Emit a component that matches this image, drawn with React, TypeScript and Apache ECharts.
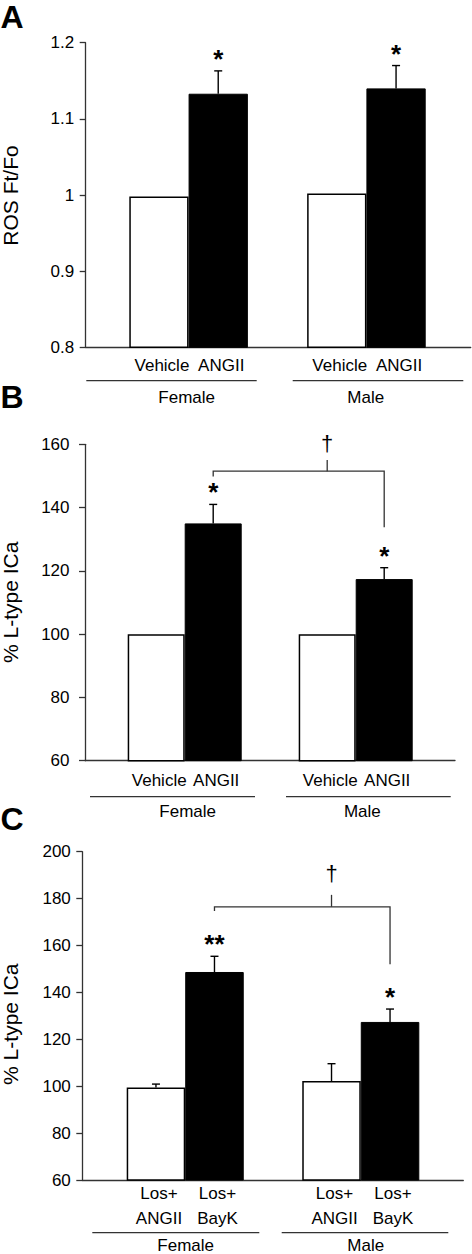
import React, { useEffect, useRef } from "react";
import * as echarts from "echarts";

const FONT = '"Liberation Sans", Arial, Helvetica, sans-serif';
const AXIS_COLOR = "#333";

// ---------- Data ----------
const groups = ["Female", "Male"];

// Panel A
const aTreatments = ["Vehicle", "ANGII"];
const aControlMean = [0.998, 1.002];
const aControlUpper: (number | null)[] = [null, null];
const aTreatMean = [1.133, 1.14];
const aTreatUpper = [1.163, 1.17];
const aControlSig = ["", ""];
const aTreatSig = ["*", "*"];
const aYTicks = { min: 0.8, max: 1.2, interval: 0.1 };
const aYName = "ROS Ft/Fo";

// Panel B
const bTreatments = ["Vehicle", "ANGII"];
const bControlMean = [100, 100];
const bControlUpper: (number | null)[] = [null, null];
const bTreatMean = [135.0, 117.4];
const bTreatUpper = [141.0, 121.0];
const bControlSig = ["", ""];
const bTreatSig = ["*", "*"];
const bYTicks = { min: 60, max: 160, interval: 20 };
const bYName = "% L-type ICa";
// bracket: y level, left leg end, right leg end, middle tick top, dagger level
const bBracket = [151.5, 149.8, 133.8, 155.0, 160.3];

// Panel C
const cTreatments = ["Los+\nANGII", "Los+\nBayK"];
const cControlMean = [99.4, 102.2];
const cControlUpper: (number | null)[] = [100.9, 109.6];
const cTreatMean = [148.7, 127.4];
const cTreatUpper = [155.4, 132.9];
const cControlSig = ["", ""];
const cTreatSig = ["**", "*"];
const cYTicks = { min: 60, max: 200, interval: 20 };
const cYName = "% L-type ICa";
const cBracket = [176.5, 174.7, 152.0, 181.6, 190.8];

// ---------- Layout (pixels) ----------
const layouts = [
  {
    letter: "A", letterY: 17,
    top: 42.7, bottom: 347.3, axisLeft: 85.7, axisRight: 470.7, barsLeft: 129.3, barsRight: 425.7,
    yLabelMargin: 11.5, xLabelMargin: 10, xLineHeight: 17, nameX: 10.8, nameY: 195.5,
    groupLineY: 380.7, groupLines: [[86.3, 256.7], [292.7, 463.3]], groupTextY: 397.3, groupTextX: [186.7, 365.7],
  },
  {
    letter: "B", letterY: 396.5,
    top: 444.3, bottom: 760.7, axisLeft: 85, axisRight: 455, barsLeft: 127.7, barsRight: 412.7,
    yLabelMargin: 15.5, xLabelMargin: 11, xLineHeight: 17, nameX: 10.5, nameY: 602.3,
    groupLineY: 796.7, groupLines: [[90, 255], [286, 450.7]], groupTextY: 811.7, groupTextX: [187.7, 362.3],
  },
  {
    letter: "C", letterY: 819,
    top: 851.7, bottom: 1180, axisLeft: 82.3, axisRight: 463.3, barsLeft: 126.7, barsRight: 419.3,
    yLabelMargin: 11.5, xLabelMargin: 1, xLineHeight: 25, nameX: 10.5, nameY: 1024.2,
    groupLineY: 1232.7, groupLines: [[92.3, 259.3], [281.7, 448.3]], groupTextY: 1245, groupTextX: [185.7, 365.7],
  },
];

type PanelData = {
  treatments: string[];
  controlMean: number[];
  controlUpper: (number | null)[];
  treatMean: number[];
  treatUpper: number[];
  controlSig: string[];
  treatSig: string[];
  yTicks: { min: number; max: number; interval: number };
  yName: string;
  bracket: number[] | null;
};

const panels: PanelData[] = [
  { treatments: aTreatments, controlMean: aControlMean, controlUpper: aControlUpper, treatMean: aTreatMean, treatUpper: aTreatUpper, controlSig: aControlSig, treatSig: aTreatSig, yTicks: aYTicks, yName: aYName, bracket: null },
  { treatments: bTreatments, controlMean: bControlMean, controlUpper: bControlUpper, treatMean: bTreatMean, treatUpper: bTreatUpper, controlSig: bControlSig, treatSig: bTreatSig, yTicks: bYTicks, yName: bYName, bracket: bBracket },
  { treatments: cTreatments, controlMean: cControlMean, controlUpper: cControlUpper, treatMean: cTreatMean, treatUpper: cTreatUpper, controlSig: cControlSig, treatSig: cTreatSig, yTicks: cYTicks, yName: cYName, bracket: cBracket },
];

function buildOption() {
  const grid: any[] = [];
  const xAxis: any[] = [];
  const yAxis: any[] = [];
  const series: any[] = [];
  const graphic: any[] = [];

  panels.forEach((p, pi) => {
    const L = layouts[pi];
    const axesIdx = pi * 2;
    const barsIdx = pi * 2 + 1;
    const h = L.bottom - L.top;

    grid.push({ left: L.axisLeft, top: L.top, width: L.axisRight - L.axisLeft, height: h, containLabel: false });
    grid.push({ left: L.barsLeft, top: L.top, width: L.barsRight - L.barsLeft, height: h, containLabel: false });

    // categories: control, treat for each group, with an empty gap between groups
    const cats: string[] = [];
    groups.forEach((g, gi) => {
      if (gi > 0) cats.push("");
      cats.push(p.treatments[0], p.treatments[1]);
    });
    const catIndex = (gi: number, k: number) => gi * 3 + k;

    xAxis.push({
      type: "value", gridIndex: axesIdx, min: 0, max: 1,
      axisLine: { show: true, lineStyle: { color: AXIS_COLOR, width: 1.3 } },
      axisTick: { show: false }, axisLabel: { show: false }, splitLine: { show: false },
    });
    xAxis.push({
      type: "category", gridIndex: barsIdx, data: cats,
      axisLine: { show: false }, axisTick: { show: false }, splitLine: { show: false },
      axisLabel: {
        show: true, interval: 0, margin: L.xLabelMargin, color: "#000",
        fontFamily: FONT, fontSize: 17, lineHeight: L.xLineHeight, verticalAlign: "top",
        padding: [0, 0, 0, 6],
      },
    });
    yAxis.push({
      type: "value", gridIndex: axesIdx, min: p.yTicks.min, max: p.yTicks.max, interval: p.yTicks.interval,
      axisLine: { show: true, onZero: false, lineStyle: { color: AXIS_COLOR, width: 1.3 } },
      axisTick: { show: true, inside: false, length: 6, lineStyle: { color: AXIS_COLOR, width: 1.3 } },
      axisLabel: { show: true, margin: L.yLabelMargin, color: "#000", fontFamily: FONT, fontSize: 17 },
      splitLine: { show: false },
    });
    yAxis.push({
      type: "value", gridIndex: barsIdx, min: p.yTicks.min, max: p.yTicks.max, interval: p.yTicks.interval,
      show: false, splitLine: { show: false },
    });

    const controlData = cats.map(() => "-" as any);
    const treatData = cats.map(() => "-" as any);
    groups.forEach((g, gi) => {
      controlData[catIndex(gi, 0)] = p.controlMean[gi];
      treatData[catIndex(gi, 1)] = p.treatMean[gi];
    });

    series.push({
      type: "bar", name: p.treatments[0], xAxisIndex: barsIdx, yAxisIndex: barsIdx,
      data: controlData, barGap: "-100%", barCategoryGap: "0%",
      itemStyle: { color: "#fff", borderColor: "#000", borderWidth: 1.5 },
    });
    series.push({
      type: "bar", name: p.treatments[1], xAxisIndex: barsIdx, yAxisIndex: barsIdx,
      data: treatData, barGap: "-100%", barCategoryGap: "0%",
      itemStyle: { color: "#000", borderColor: "#000", borderWidth: 1 },
    });

    // error bars + significance marks
    const errData: any[] = [];
    const errSig: string[] = [];
    groups.forEach((g, gi) => {
      const cu = p.controlUpper[gi];
      if (cu != null || p.controlSig[gi]) {
        errData.push([catIndex(gi, 0), p.controlMean[gi], cu != null ? cu : p.controlMean[gi]]);
        errSig.push(p.controlSig[gi]);
      }
      errData.push([catIndex(gi, 1), p.treatMean[gi], p.treatUpper[gi]]);
      errSig.push(p.treatSig[gi]);
    });
    series.push({
      type: "custom", xAxisIndex: barsIdx, yAxisIndex: barsIdx, data: errData, z: 5, clip: false,
      renderItem: (params: any, api: any) => {
        const cat = api.value(0);
        const mean = api.value(1);
        const upper = api.value(2);
        const b = api.coord([cat, mean]);
        const t = api.coord([cat, upper]);
        const children: any[] = [];
        if (upper > mean) {
          children.push({ type: "line", shape: { x1: b[0], y1: b[1], x2: t[0], y2: t[1] }, style: { stroke: "#000", lineWidth: 1.4 } });
          children.push({ type: "line", shape: { x1: t[0] - 4, y1: t[1], x2: t[0] + 4, y2: t[1] }, style: { stroke: "#000", lineWidth: 1.4 } });
        }
        const sig = errSig[params.dataIndex];
        if (sig) {
          children.push({
            type: "text",
            style: { text: sig, x: t[0], y: t[1] + 1, align: "center", verticalAlign: "bottom", fill: "#000", font: `bold 26px ${FONT}` },
          });
        }
        return { type: "group", children };
      },
    });

    if (p.bracket) {
      const br = p.bracket;
      const fromCat = catIndex(0, 1);
      const toCat = catIndex(1, 1);
      series.push({
        type: "custom", xAxisIndex: barsIdx, yAxisIndex: barsIdx, clip: false, z: 5,
        data: [[fromCat, toCat, br[0], br[1], br[2], br[3], br[4]]],
        renderItem: (params: any, api: any) => {
          const f = api.value(0), tcat = api.value(1);
          const yv = api.value(2), le = api.value(3), re = api.value(4), mt = api.value(5), dv = api.value(6);
          const p1 = api.coord([f, le]);
          const p2 = api.coord([f, yv]);
          const p3 = api.coord([tcat, yv]);
          const p4 = api.coord([tcat, re]);
          const mid = (f + tcat) / 2;
          const m1 = api.coord([mid, yv]);
          const m2 = api.coord([mid, mt]);
          const d = api.coord([mid, dv]);
          return {
            type: "group",
            children: [
              { type: "polyline", shape: { points: [p1, p2, p3, p4] }, style: { stroke: AXIS_COLOR, lineWidth: 1.3, fill: null } },
              { type: "line", shape: { x1: m1[0], y1: m1[1], x2: m2[0], y2: m2[1] }, style: { stroke: AXIS_COLOR, lineWidth: 1.3 } },
              { type: "text", style: { text: "\u2020", x: d[0], y: d[1], align: "center", verticalAlign: "middle", fill: "#000", font: `22px ${FONT}` } },
            ],
          };
        },
      });
    }

    // panel letter
    graphic.push({
      type: "text", x: 0.5, y: L.letterY,
      style: { text: L.letter, fill: "#000", font: `bold 32px ${FONT}`, lineHeight: 26, align: "left", verticalAlign: "middle" },
    });
    // y-axis title
    graphic.push({
      type: "text", x: L.nameX, y: L.nameY, rotation: Math.PI / 2,
      style: { text: p.yName, fill: "#000", font: `21px ${FONT}`, align: "center", verticalAlign: "middle" },
    });
    // group underline + labels
    groups.forEach((g, gi) => {
      const gl = L.groupLines[gi];
      graphic.push({
        type: "line", shape: { x1: gl[0], y1: L.groupLineY, x2: gl[1], y2: L.groupLineY },
        style: { stroke: AXIS_COLOR, lineWidth: 1.3 },
      });
      graphic.push({
        type: "text", x: L.groupTextX[gi], y: L.groupTextY,
        style: { text: g, align: "center", verticalAlign: "middle", fill: "#000", font: `17px ${FONT}` },
      });
    });
  });

  return { animation: false, backgroundColor: "#fff", grid, xAxis, yAxis, series, graphic };
}

export default function App() {
  const ref = useRef<HTMLDivElement>(null);
  useEffect(() => {
    document.body.style.margin = "0";
    if (!ref.current) return;
    const chart = echarts.init(ref.current, undefined, { renderer: "svg" });
    chart.setOption(buildOption() as any);
    return () => chart.dispose();
  }, []);
  return <div ref={ref} style={{ width: 472, height: 1254 }} />;
}
